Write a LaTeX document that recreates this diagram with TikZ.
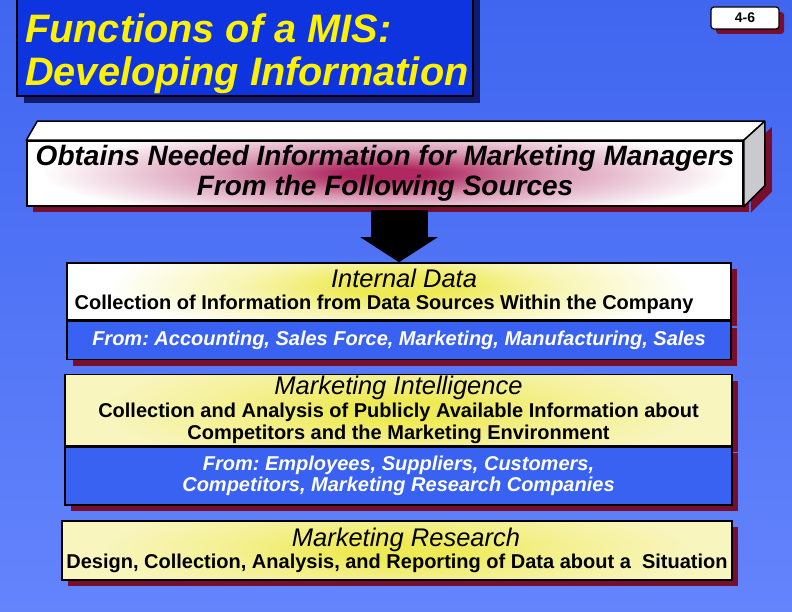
\documentclass[tikz,border=0pt]{standalone}
\usepackage{fontspec}
\setmainfont{Liberation Sans}
\usetikzlibrary{calc,shadows,arrows.meta}

\definecolor{bgtop}{RGB}{64,102,240}
\definecolor{bgbottom}{RGB}{100,132,252}
\definecolor{titleblue}{RGB}{14,52,224}
\definecolor{navyshadow}{RGB}{18,26,110}
\definecolor{maroon}{RGB}{118,14,44}
\definecolor{glowpink}{RGB}{176,40,96}
\definecolor{paleyellow}{RGB}{248,245,190}
\definecolor{glowyellow}{RGB}{238,234,86}
\definecolor{stripblue}{RGB}{58,98,242}
\definecolor{sideface}{RGB}{202,202,206}

\pgfdeclareradialshading{pinkglow}{\pgfpointorigin}{color(0bp)=(glowpink); color(3bp)=(glowpink); color(12bp)=(glowpink!45!white); color(24bp)=(white); color(50bp)=(white)}
\pgfdeclareradialshading{yellowglow}{\pgfpointorigin}{color(0bp)=(glowyellow); color(4bp)=(glowyellow); color(12bp)=(glowyellow!45!white); color(22bp)=(white); color(50bp)=(white)}
\pgfdeclareradialshading{paleglow}{\pgfpointorigin}{color(0bp)=(glowyellow); color(4bp)=(glowyellow); color(12bp)=(glowyellow!45!paleyellow); color(22bp)=(paleyellow); color(50bp)=(paleyellow)}

\newcommand{\headfont}{\fontsize{25.5}{27}\selectfont\mdseries\itshape}
\frenchspacing

\begin{document}
\begin{tikzpicture}[x=1pt,y=-1pt]
    \tikzstyle{every node}=[inner sep=0pt, font=\fontsize{20}{22.5}\selectfont\bfseries];
    \tikzstyle{shadowed}=[drop shadow={shadow xshift=6pt, shadow yshift=-6pt, fill=maroon, opacity=1}];
    \tikzstyle{box}=[draw=black, line width=1.5pt, align=center, shadowed];
    \tikzstyle{strip}=[box, fill=stripblue, text=white, font=\fontsize{20}{21}\selectfont\bfseries\itshape];

    \useasboundingbox (0,0) rectangle (792,612);
    \shade[top color=bgtop, bottom color=bgbottom] (0,0) rectangle (792,612);

    % title
    \node[draw=black, line width=1.5pt, fill=titleblue, minimum width=456pt, minimum height=106pt,
      drop shadow={shadow xshift=7pt, shadow yshift=-7pt, fill=navyshadow, opacity=1}] (M) at (245,43) {};
    \node[anchor=west, text=yellow, align=left, font=\fontsize{39.7}{43}\selectfont\bfseries\itshape] (MT) at (25,53.5)
      {Functions of a MIS:\\Developing Information};
    \node[draw=black, line width=1.2pt, fill=white, rounded corners=3pt, minimum width=68pt, minimum height=22pt,
      drop shadow={shadow xshift=5pt, shadow yshift=-5pt, fill=maroon, opacity=1},
      font=\fontsize{14}{16}\selectfont\bfseries] (P) at (745,18) {4-6};

    % 3d box
    \node[box, fill=white, minimum width=716pt, minimum height=65pt,
      path picture={\shade[shading=pinkglow] (path picture bounding box.center) ellipse (340pt and 50pt);},
      font=\fontsize{28}{30}\selectfont\bfseries\itshape] (T) at (385,173.5)
      {Obtains Needed Information for Marketing Managers\\From the Following Sources};
    \fill[maroon] ($(T.north east)+(7,6)$) -- ($(T.north east)+(28,-13)$) -- ($(T.south east)+(28,-15)$) -- ($(T.south east)+(7,6)$) -- cycle;
    \draw[line width=1.5pt, fill=white, line join=round] (T.north west) -- ++(11,-19) -- ($(T.north east)+(21,-19)$) -- (T.north east) -- cycle;
    \draw[line width=1.5pt, fill=sideface, line join=round] (T.north east) -- ++(21,-19) -- ($(T.south east)+(21,-21)$) -- (T.south east) -- cycle;

    % sources
    \node[box, fill=white, minimum width=664pt, minimum height=57pt,
      path picture={\shade[shading=yellowglow] ($(path picture bounding box.center)+(0,-5)$) ellipse (300pt and 60pt);}] (I) at (399,291.5)
      {{\headfont\hspace*{10pt}Internal Data}\\Collection of Information from Data Sources Within the Company\hspace*{30pt}};
    \node[strip, minimum width=664pt, minimum height=38pt, anchor=north] (If) at (I.south)
      {From: Accounting, Sales Force, Marketing, Manufacturing, Sales};

    \node[box, fill=paleyellow, minimum width=667pt, minimum height=71pt,
      path picture={\shade[shading=paleglow] (path picture bounding box.center) ellipse (320pt and 70pt);}] (MI) at (398.5,410)
      {{\headfont Marketing Intelligence}\\Collection and Analysis of Publicly Available Information about\\Competitors and the Marketing Environment};
    \node[strip, minimum width=667pt, minimum height=58pt, anchor=north] (MIf) at (MI.south)
      {From: Employees, Suppliers, Customers,\\Competitors, Marketing Research Companies};

    \node[box, fill=paleyellow, minimum width=670pt, minimum height=59pt,
      path picture={\shade[shading=paleglow] (path picture bounding box.center) ellipse (320pt and 60pt);}] (MR) at (397,550.5)
      {{\headfont\hspace*{18pt}Marketing Research}\\Design, Collection, Analysis, and Reporting of Data about a\ \ Situation};

    \draw[line width=57pt, -{Triangle[width=76pt, length=25pt]}, shorten <=3pt] (I.north |- T.south) -- (I.north);
\end{tikzpicture}
\end{document}
